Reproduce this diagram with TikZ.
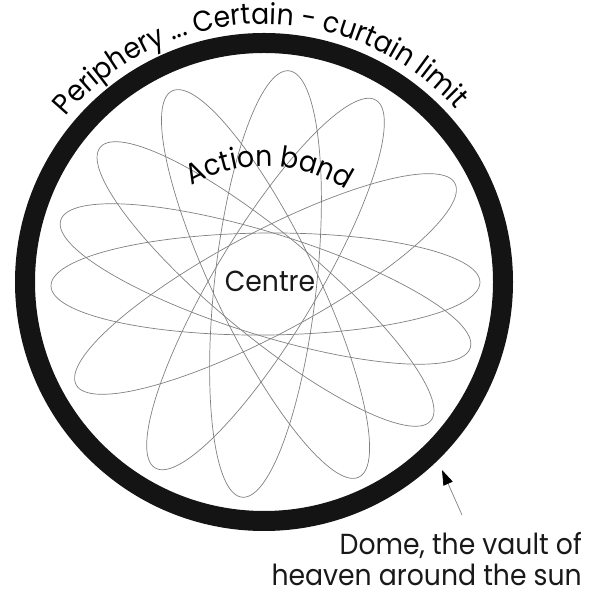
\documentclass[tikz,border=0pt]{standalone}
\usepackage{fontspec}
\setmainfont{Poppins}
\newfontfamily\gothic[FakeStretch=0.92]{Poppins}
\usetikzlibrary{decorations.text,arrows.meta}
\newcommand{\bigtxt}{\gothic\fontsize{29}{31}\selectfont}
\begin{document}
\begin{tikzpicture}[x=1pt,y=1pt,
  ring/.style={line width=20pt,draw=black!92},
  orbit/.style={draw=black!50,line width=0.7pt},
  lbl/.style={font=\bigtxt,text=black!90,inner sep=0pt},
  pointer/.style={draw=black!50,line width=0.7pt,-{Triangle[length=15pt,width=10pt,fill=black,color=black]}}]
\useasboundingbox (0,0) rectangle (600,589);
\coordinate (c) at (264,307);
\coordinate (e) at (265.5,305);
\coordinate (ab) at (265.5,274);
\draw[ring] (c) circle[radius=239];
\foreach \a in {0.5,28,59,83.7,115.8,140.4,162.7}
  \draw[orbit,rotate around={\a:(e)}] (e) ellipse[x radius=214.5,y radius=51];
\node[lbl,anchor=base] (centre) at (270,297) {Centre};
\path[decorate,decoration={text along path,text align=center,
  text={|\bigtxt|Periphery ... Certain - curtain limit}}]
  (c) ++(143:258) arc[start angle=143,end angle=39,radius=258];
\path[decorate,decoration={text along path,text align=center,
  text={|\bigtxt|Action band}}]
  (ab) ++(122:149) arc[start angle=122,end angle=55,radius=149];
\node[lbl,anchor=north east,align=right] (dome) at (582,57) {Dome, the vault of\\heaven around the sun};
\coordinate (tail) at (462,74);
\coordinate (tip) at (442,119);
\draw[pointer] (tail) -- (tip);
\end{tikzpicture}
\end{document}
